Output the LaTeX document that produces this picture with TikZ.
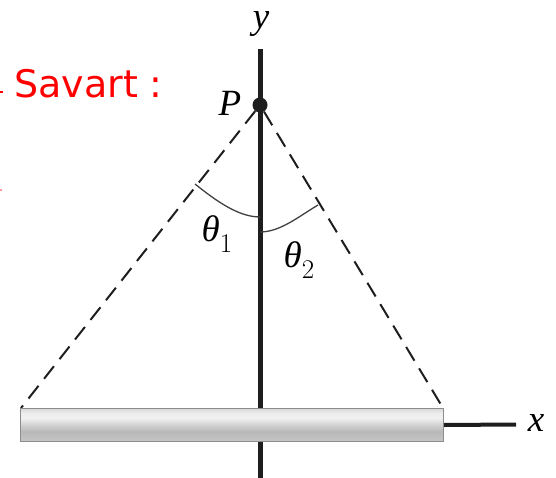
\documentclass[tikz,border=0pt]{standalone}
\usepackage{fontspec}
\newfontfamily\handfont{DejaVu Sans}
\newfontfamily\labfont{Liberation Serif}
\newcommand{\subnum}[1]{\raisebox{-0.28em}{\rmfamily\upshape\fontsize{27}{27}\selectfont #1}}
\definecolor{ink}{HTML}{1E1E1E}
\definecolor{redink}{HTML}{FF0000}
\pgfdeclareverticalshading{barshade}{100bp}{%
  color(0bp)=(black!22); color(25bp)=(black!22); color(32bp)=(black!25);
  color(40bp)=(black!28); color(50bp)=(black!18); color(60bp)=(black!6);
  color(68bp)=(black!7); color(75bp)=(black!15); color(100bp)=(black!15)}
\begin{document}
\begin{tikzpicture}[x=1pt,y=-1pt,
  yaxisline/.style={line width=5pt, draw=ink},
  xaxisline/.style={line width=4pt, draw=ink},
  dashline/.style={line width=2pt, draw=ink, dash pattern=on 16pt off 9pt},
  angarc/.style={line width=1.3pt, draw=ink!85},
  lab/.style={font=\labfont\itshape\fontsize{37}{37}\selectfont, inner sep=0pt},
  pdot/.style={circle, fill=ink, minimum size=15pt, inner sep=0pt},
  rodbar/.style={draw=black!45, line width=1pt, shading=barshade,
    minimum width=423pt, minimum height=33pt, inner sep=0pt, anchor=north west},
  note/.style={text=redink, font=\handfont\fontsize{38}{38}\selectfont, inner sep=0pt, anchor=west}]
\useasboundingbox (0,0) rectangle (556,478);
% y axis
\coordinate (ytop) at (260,49);
\coordinate (ybot) at (260,478);
\draw[yaxisline] (ytop) -- (ybot);
% point P
\node[pdot] (P) at (260,105) {};
% dashed lines
\coordinate (L) at (21,408);
\coordinate (R) at (443,408);
\draw[dashline] (P) -- (L);
\draw[dashline] (P) -- (R);
% bar
\node[rodbar] (bar) at (20,408) {};
% x axis
\coordinate (xend) at (516,424.5);
\draw[xaxisline] (bar.east) -- (xend);
% angle arcs
\coordinate (a1) at (195,184);
\coordinate (a2) at (260,217);
\coordinate (b1) at (260,232);
\coordinate (b2) at (318,205);
\draw[angarc] (a1) .. controls (215,200) and (238,217) .. (a2);
\draw[angarc] (b1) .. controls (280,232) and (298,217) .. (b2);
% labels
\node[lab] (ylab) at (261,24) {y};
\node[lab] (Plab) at (230,103) {P};
\node[lab] (xlab) at (536,423) {x};
\node[lab] (t1) at (217,234) {θ\subnum{1}};
\node[lab] (t2) at (299,260) {θ\subnum{2}};
% red handwritten note
\node[note] (sav) at (14,84) {Savart :};
\coordinate (m1) at (0,92);
\coordinate (m1e) at (2.5,92);
\draw[redink, line width=2pt] (m1) -- (m1e);
\coordinate (m2) at (0,190);
\coordinate (m2e) at (2,190);
\draw[redink!40, line width=1.5pt] (m2) -- (m2e);
\end{tikzpicture}
\end{document}
